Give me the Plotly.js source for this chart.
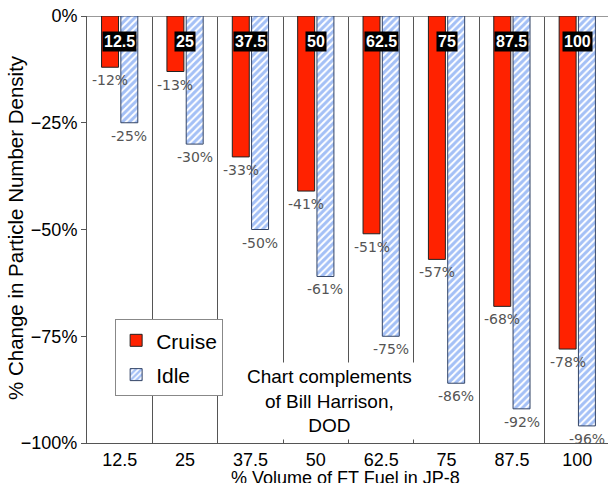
<!DOCTYPE html>
<html>
<head>
<meta charset="utf-8">
<script src="https://cdn.plot.ly/plotly-3.0.1.min.js"></script>
<style>html,body{margin:0;padding:0;background:#fff;}#chart{width:608px;height:483px;}</style>
</head>
<body>
<div id="chart"></div>
<script>
const categories = ["12.5", "25", "37.5", "50", "62.5", "75", "87.5", "100"];
const cruise = [-12, -13, -33, -41, -51, -57, -68, -78];
const idle = [-25, -30, -50, -61, -75, -86, -92, -96];
const yTicks = [0, -25, -50, -75, -100];
const yTickText = ["0%", "\u221225%", "\u221250%", "\u221275%", "\u2212100%"];
const seriesNames = ["Cruise", "Idle"];
const noteText = "Chart complements<br>of Bill Harrison,<br>DOD";
const xTitle = "% Volume of FT Fuel in JP-8";
const yTitle = "% Change in Particle Number Density";

const FONT = "Liberation Sans, Arial, Helvetica, sans-serif";
const LBL = "DejaVu Sans, sans-serif";

const W = 608, H = 483;
const M = {l: 87, r: 0, t: 16, b: 40};
const X_RANGE = [-0.5, 7.47];
const BARGAP = 0.41;

const traces = [
  {
    type: "bar", name: seriesNames[0], x: categories, y: cruise,
    legendgroup: "a",
    marker: {color: "#ff2200", line: {color: "#222", width: 1}},
    hoverinfo: "none"
  },
  {
    type: "bar", name: seriesNames[1], x: categories, y: idle,
    legendgroup: "b",
    marker: {color: "#4a82ee", line: {color: "#334466", width: 1},
      pattern: {shape: "/", fgcolor: "#4a82ee", bgcolor: "#ffffff", size: 5, solidity: 0.6, fillmode: "overlay"}},
    hoverinfo: "none"
  }
];

// pixel offset of each bar's centre within its category, derived from the axis scale
const pxPerCat = (W - M.l - M.r) / (X_RANGE[1] - X_RANGE[0]);
const slot = pxPerCat * (1 - BARGAP) / 2;
const shifts = [-slot / 2, slot / 2];

const annotations = [];
[cruise, idle].forEach((vals, s) => {
  vals.forEach((v, i) => {
    annotations.push({
      x: i, y: v, xref: "x", yref: "y", text: v + "%", showarrow: false,
      xanchor: "center", yanchor: "top", xshift: shifts[s], yshift: -3,
      font: {family: LBL, size: 14, color: "#555"}
    });
  });
});
categories.forEach((c, i) => {
  annotations.push({
    x: i, y: -6, xref: "x", yref: "y", text: "<b>" + c + "</b>", showarrow: false,
    xanchor: "center", yanchor: "middle",
    font: {family: FONT, size: 16, color: "#fff"}, bgcolor: "#000", borderpad: 1
  });
});
const pw = W - M.l - M.r, ph = H - M.t - M.b;
annotations.push({
  x: (329 - M.l) / pw, y: (H - M.b - 401) / ph, xref: "paper", yref: "paper",
  xanchor: "center", yanchor: "middle",
  text: noteText, showarrow: false,
  font: {family: FONT, size: 19, color: "#000"}, bgcolor: "#fff", borderpad: 3, align: "center"
});
// x-axis title, placed just below the tick labels (its descenders run past the bottom edge, as in the reference)
annotations.push({
  x: (345 - M.l) / pw, y: -(478 - (H - M.b)) / ph, xref: "paper", yref: "paper",
  xanchor: "center", yanchor: "middle", text: xTitle, showarrow: false,
  font: {family: FONT, size: 18, color: "#000"}
});
// y-axis title
annotations.push({
  x: -(M.l - 15) / pw, y: (H - M.b - 228) / ph, xref: "paper", yref: "paper",
  xanchor: "center", yanchor: "middle", textangle: -90, text: yTitle, showarrow: false,
  font: {family: FONT, size: 20.5, color: "#000"}
});

const layout = {
  width: W, height: H,
  margin: M,
  paper_bgcolor: "#fff", plot_bgcolor: "#fff",
  barmode: "group", bargap: BARGAP, bargroupgap: 0.12,
  font: {family: FONT, color: "#000"},
  showlegend: true,
  legend: {x: 0.054, y: 0.29, xanchor: "left", yanchor: "top", bgcolor: "#fff",
    bordercolor: "#888", borderwidth: 1, font: {family: FONT, size: 21, color: "#000"},
    tracegroupgap: 4},
  xaxis: {type: "category", range: X_RANGE, tickson: "boundaries", showgrid: true,
    gridcolor: "#555", gridwidth: 1, ticks: "", showline: true, linecolor: "#555",
    tickfont: {family: FONT, size: 18, color: "#000"},
    automargin: false, fixedrange: true},
  yaxis: {range: [-100, 0], tickmode: "array", tickvals: yTicks, ticktext: yTickText, showgrid: false,
    zeroline: true, zerolinecolor: "#999", zerolinewidth: 1,
    showline: true, linecolor: "#555", ticks: "outside", ticklen: 5, tickcolor: "#555",
    tickfont: {family: FONT, size: 18, color: "#000"},
    automargin: false, fixedrange: true},
  annotations: annotations
};

Plotly.newPlot("chart", traces, layout, {displayModeBar: false, staticPlot: true});
</script>
</body>
</html>
